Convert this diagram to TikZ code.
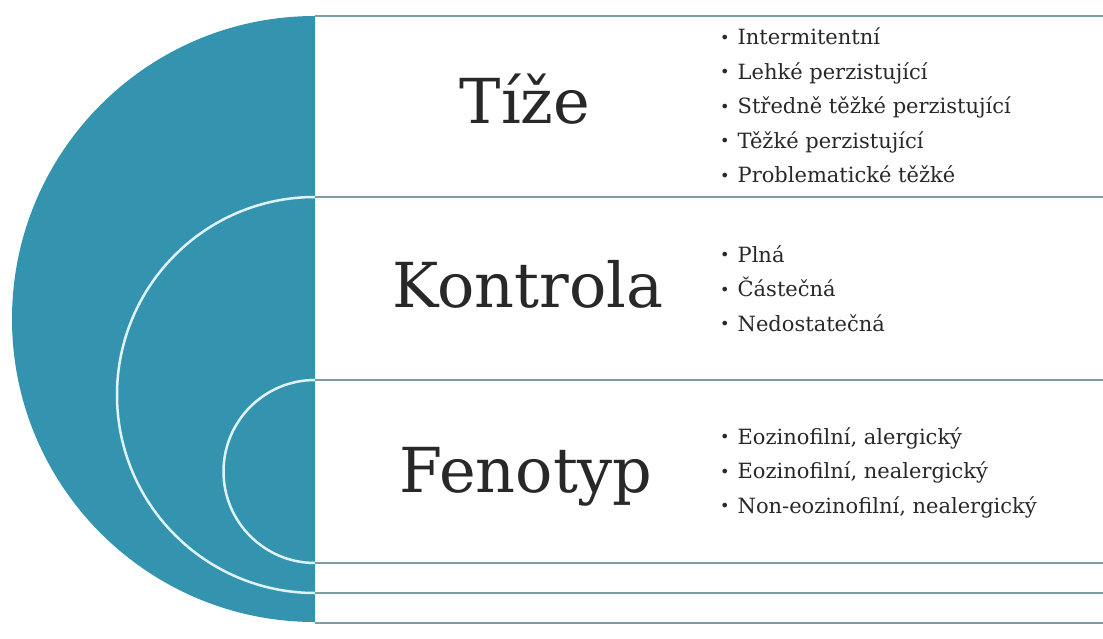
\documentclass[tikz,border=0pt]{standalone}
\usepackage{fontspec}
\setmainfont{DejaVu Serif}
\definecolor{tealbg}{RGB}{52,148,175}
\definecolor{arcwhite}{RGB}{222,244,250}
\definecolor{rule}{RGB}{122,158,164}
\definecolor{ink}{RGB}{40,40,40}
\tikzset{
  title/.style={anchor=base, text=ink, font=\fontsize{62}{62}\selectfont, inner sep=0pt},
  item/.style={anchor=base west, text=ink, font=\fontsize{21}{21}\selectfont, inner sep=0pt},
  sep/.style={draw=rule, line width=2pt},
  ring/.style={draw=arcwhite, line width=2.5pt}
}
\newcommand{\bul}{{\fontsize{16}{16}\selectfont\raisebox{1.5pt}{•}}\hspace{8pt}}
\begin{document}
\begin{tikzpicture}[x=1pt,y=-1pt]
\useasboundingbox (0,0) rectangle (1103,639);
\fill[white] (0,0) rectangle (1103,639);
% teal half disc with white arcs
\begin{scope}
  \clip (0,0) rectangle (315,639);
  \fill[tealbg] (315,319) circle[radius=303];
  \draw[ring] (315,395) circle[radius=198];
  \draw[ring] (315,471.5) circle[radius=91.5];
\end{scope}
% separators
\coordinate (l0) at (315,16);   \coordinate (r0) at (1103,16);
\coordinate (l1) at (315,197);  \coordinate (r1) at (1103,197);
\coordinate (l2) at (315,380);  \coordinate (r2) at (1103,380);
\coordinate (l3) at (315,563);  \coordinate (r3) at (1103,563);
\coordinate (l4) at (315,593);  \coordinate (r4) at (1103,593);
\coordinate (l5) at (315,623);  \coordinate (r5) at (1103,623);
\foreach \i in {0,...,5} { \draw[sep] (l\i) -- (r\i); }
% titles
\node[title] (tize) at (525,124) {Tíže};
\node[title] (kontrola) at (528,307) {Kontrola};
\node[title] (fenotyp) at (526,492) {Fenotyp};
% lists
\node[item] (a1) at (720,45) {\bul Intermitentní};
\node[item] (a2) at (720,79.5) {\bul Lehké perzistující};
\node[item] (a3) at (720,114) {\bul Středně těžké perzistující};
\node[item] (a4) at (720,148.5) {\bul Těžké perzistující};
\node[item] (a5) at (720,183) {\bul Problematické těžké};
\node[item] (b1) at (720,262) {\bul Plná};
\node[item] (b2) at (720,296.5) {\bul Částečná};
\node[item] (b3) at (720,331) {\bul Nedostatečná};
\node[item] (c1) at (720,444) {\bul Eozinofilní, alergický};
\node[item] (c2) at (720,478.5) {\bul Eozinofilní, nealergický};
\node[item] (c3) at (720,513) {\bul Non-eozinofilní, nealergický};
\end{tikzpicture}
\end{document}
